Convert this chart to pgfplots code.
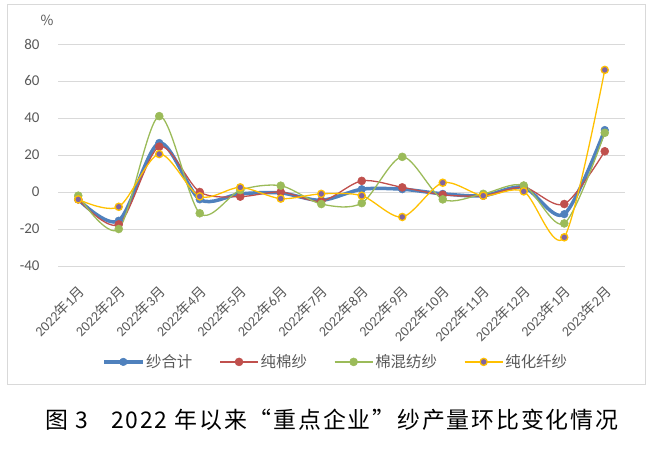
\documentclass[border=0pt]{standalone}
\usepackage{pgfplots}
\pgfplotsset{compat=1.18}
\usepackage{fontspec}
\setmainfont{Carlito}
\newfontfamily\cjk{Noto Sans CJK SC}
\newfontfamily\capfont[LetterSpace=8]{Noto Sans CJK SC}
\definecolor{cblue}{HTML}{4F81BD}
\definecolor{cred}{HTML}{C0504D}
\definecolor{cgreen}{HTML}{9BBB59}
\definecolor{cyellow}{HTML}{FFC000}
\definecolor{cpurple}{HTML}{8064A2}
\definecolor{gridgray}{HTML}{D9D9D9}
\definecolor{txtgray}{HTML}{595959}
\pgfplotstableread{
x blue red green yellow
0 -4 -4 -2 -4
1 -15.5 -17.5 -20 -8
2 26.5 24.5 41 20.5
3 -4 0 -11.5 -2.4
4 -1 -2.5 1 2.5
5 -0.5 0 3.4 -3.6
6 -4.5 -5 -6.5 -1
7 1.5 6 -6 -2
8 1.5 2.5 19 -13.5
9 -1 -1.5 -4 5
10 -2 -2 -1 -2
11 2.5 2.5 3.5 0.3
12 -12 -6.5 -17 -24.5
13 33.5 22 32 66
}\datatable
\newcommand{\ym}[2]{#1{\cjk 年}#2{\cjk 月}}
\begin{document}
\begin{tikzpicture}[x=1bp,y=1bp]
\path (0,0) rectangle (660,454);
\draw[color=gridgray, line width=1bp] (7,69) rectangle (645,449);
\node[font=\cjk\fontsize{14}{16}\selectfont, text=txtgray] at (47,434) {\%};
\begin{axis}[
  at={(58bp,188bp)}, anchor=south west, scale only axis,
  width=567bp, height=222bp,
  xmin=-0.5, xmax=13.5, ymin=-40, ymax=80,
  ytick={-40,-20,0,20,40,60,80},
  ymajorgrids, grid style={gridgray, line width=0.9bp},
  axis line style={draw=none}, major tick style={draw=none},
  xtick={0,...,13},
  xticklabels={\ym{2022}{1},\ym{2022}{2},\ym{2022}{3},\ym{2022}{4},\ym{2022}{5},\ym{2022}{6},\ym{2022}{7},\ym{2022}{8},\ym{2022}{9},\ym{2022}{10},\ym{2022}{11},\ym{2022}{12},\ym{2023}{1},\ym{2023}{2}},
  xticklabel style={xshift=-1bp, yshift=-13bp, rotate=45, anchor=north east, font=\fontsize{14}{16}\selectfont, text=txtgray},
  yticklabel style={font=\fontsize{15}{17}\selectfont, text=txtgray, xshift=-15bp},
  /pgf/number format/assume math mode=true,
  legend style={at={(0.49,-0.432)}, anchor=center, draw=none, legend columns=4,
    font=\cjk\fontsize{15.5}{17}\selectfont, text=txtgray,
    /tikz/every even column/.append style={column sep=25bp}},
  legend image code/.code={\draw[mark repeat=2,mark phase=2] plot coordinates {(0bp,0bp) (19bp,0bp) (38bp,0bp)};},
]
\addplot[cblue, line width=3.5bp, smooth, mark=*, mark size=3.8bp, mark options={fill=cblue, draw=cblue, line width=0.5bp}] table[x=x,y=blue]{\datatable};
\addlegendentry{纱合计}
\addplot[cred, line width=1.3bp, smooth, mark=*, mark size=4bp, mark options={fill=cred, draw=cred, line width=0.5bp}] table[x=x,y=red]{\datatable};
\addlegendentry{纯棉纱}
\addplot[cgreen, line width=1.3bp, smooth, mark=*, mark size=4bp, mark options={fill=cgreen, draw=cgreen, line width=0.5bp}] table[x=x,y=green]{\datatable};
\addlegendentry{棉混纺纱}
\addplot[cyellow, line width=1.3bp, smooth, mark=*, mark size=3.6bp, mark options={fill=cpurple, draw=cyellow, line width=1.3bp}] table[x=x,y=yellow]{\datatable};
\addlegendentry{纯化纤纱}
\end{axis}
\node[font=\capfont\fontsize{23}{26}\selectfont] at (332,34) {图 3\quad 2022 年以来“重点企业”纱产量环比变化情况};
\end{tikzpicture}
\end{document}
